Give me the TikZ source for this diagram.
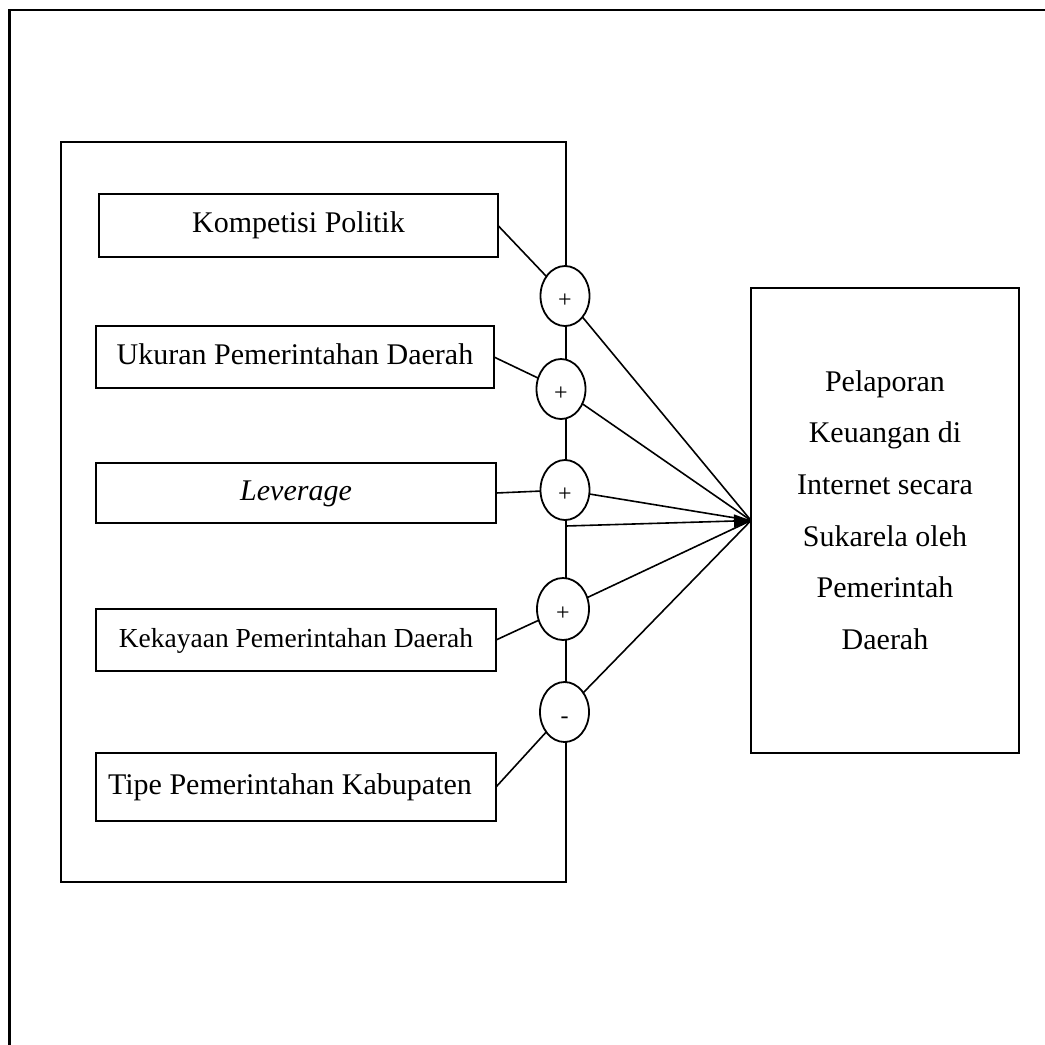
\documentclass[tikz,border=0pt]{standalone}
\usepackage{fontspec}
\setmainfont{Liberation Serif}
\usetikzlibrary{shapes.geometric,arrows.meta}
\begin{document}
\begin{tikzpicture}[x=1pt,y=-1pt,
  every node/.style={inner sep=0pt, outer sep=0pt},
  frame/.style={line width=2.4pt},
  groupbox/.style={draw, line width=1.9pt},
  varbox/.style={draw, line width=1.8pt, minimum width=400pt, text height=14pt, text depth=0pt, font=\fontsize{30}{36}\selectfont},
  sign/.style={draw, ellipse, fill=white, line width=1.8pt, minimum width=49pt, minimum height=60pt, text height=23pt, text depth=0pt, font=\fontsize{24}{24}\selectfont},
  outbox/.style={draw, line width=1.8pt},
  link/.style={line width=1.6pt},
]
\useasboundingbox (0,0) rectangle (1045,1045);
\fill[white] (0,0) rectangle (1045,1045);
% outer frame (only top and left edges visible)
\draw[frame] (9.5,1045) -- (9.5,10) -- (1045,10);

% group box of independent variables
\node[groupbox, minimum width=505pt, minimum height=740pt] (grp) at (313.5,512) {};

% independent variables
\node[varbox, minimum width=399pt, minimum height=63pt] (k1) at (298.5,225.5) {Kompetisi Politik};
\node[varbox, minimum width=398pt, minimum height=62pt] (k2) at (295,357) {Ukuran Pemerintahan Daerah};
\node[varbox, minimum height=60pt] (k3) at (296,493) {\itshape Leverage};
\node[varbox, minimum height=62pt, font=\fontsize{27.5}{33}\selectfont] (k4) at (296,640) {Kekayaan Pemerintahan Daerah};
\node[varbox, minimum height=68pt] (k5) at (296,787) {\hspace*{-12pt}Tipe Pemerintahan Kabupaten};

% signs
\node[sign] (c1) at (565,296) {+};
\node[sign] (c2) at (561,389) {+};
\node[sign] (c3) at (565,490) {+};
\node[sign, minimum width=52pt, minimum height=62pt] (c4) at (563,609) {+};
\node[sign] (c5) at (564.5,712) {-};

% dependent variable
\node[outbox, minimum width=268pt, minimum height=465pt] (out) at (885,520.5) {};
\node[align=center, font=\fontsize{30}{51.6}\selectfont] (outtext) at (885,510)
  {Pelaporan\\Keuangan di\\Internet secara\\Sukarela oleh\\Pemerintah\\Daerah};

\coordinate (j) at (566,526);

% connectors
\draw[link] (k1.east) -- (c1);
\draw[link] (k2.east) -- (c2);
\draw[link] (k3.east) -- (c3);
\draw[link] (k4.east) -- (c4);
\draw[link] (k5.east) -- (c5);
\draw[link] (c1) -- (out.west);
\draw[link] (c2) -- (out.west);
\draw[link] (c3) -- (out.west);
\draw[link] (c4) -- (out.west);
\draw[link] (c5) -- (out.west);
\draw[link, -{Triangle[length=17pt,width=13pt]}] (j) -- (out.west);
\end{tikzpicture}
\end{document}
